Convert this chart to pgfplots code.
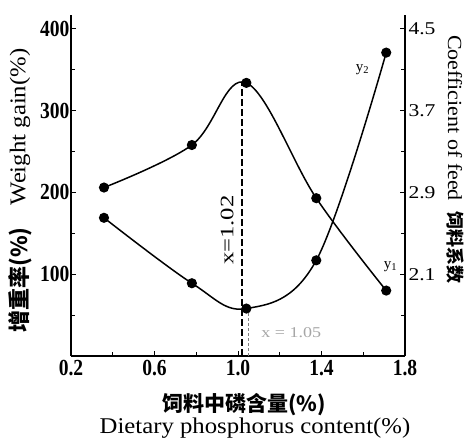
\documentclass[border=0pt]{standalone}
\usepackage{fontspec}
\usepackage{pgfplots}
\pgfplotsset{compat=1.18}
\setmainfont{Liberation Serif}
\newfontfamily\lab{Liberation Serif}[FakeStretch=1.1]
\newfontfamily\tk{Liberation Serif}[FakeStretch=0.85]
\newfontfamily\rtk{Liberation Serif}[FakeStretch=1.2]
\newfontfamily\ann{Liberation Serif}[FakeStretch=1.3]
\newfontfamily\cjk{Noto Sans CJK SC}

\begin{document}
\begin{tikzpicture}
\useasboundingbox (-71pt,-85pt) rectangle (397pt,356pt);
\begin{axis}[
  scale only axis, width=334pt, height=341pt,
  at={(0pt,0pt)}, anchor=south west,
  xmin=0.2, xmax=1.8, ymin=0, ymax=417,
  axis x line=bottom, axis y line=left,
  axis line style={-, line width=1.4pt},
  tick align=inside, clip=false,
  xtick={0.2,0.6,1.0,1.4,1.8}, xticklabels={0.2,0.6,1.0,1.4,1.8},
  minor xtick={0.4,0.8,1.2,1.6},
  ytick={100,200,300,400}, yticklabels={100,200,300,400},
  minor ytick={50,150,250,350},
  major tick length=5pt, minor tick length=4pt,
  every tick/.style={black, line width=0.9pt},
  tick label style={font=\tk\bfseries\fontsize{23}{23}\selectfont},
  xticklabel style={yshift=-1pt},
  yticklabel style={xshift=2pt},
]
\addplot[black, smooth, tension=0.6, line width=1.5pt, mark=*, mark size=4.3pt]
  coordinates {(0.358,206) (0.779,258) (1.04,334) (1.375,193) (1.71,80)};
\addplot[black, line width=1.5pt, dash pattern=on 7pt off 3pt]
  coordinates {(1.02,0) (1.02,334)};
\addplot[gray, line width=0.7pt, dash pattern=on 3pt off 2pt]
  coordinates {(1.05,0) (1.05,58)};
\node[rotate=90, font=\ann\fontsize{19}{19}\selectfont] at (axis cs:0.948,154) {x=1.02};
\node[gray!70, font=\rtk\fontsize{15}{15}\selectfont] at (axis cs:1.255,28) {x = 1.05};
\node[font=\fontsize{15}{15}\selectfont] at (axis cs:1.596,350) {y\textsubscript{2}};
\node[font=\fontsize{15}{15}\selectfont] at (axis cs:1.73,109) {y\textsubscript{1}};
\end{axis}
\begin{axis}[
  scale only axis, width=334pt, height=341pt,
  at={(0pt,0pt)}, anchor=south west,
  xmin=0.2, xmax=1.8, ymin=1.3, ymax=4.636,
  axis y line=right, axis x line=none,
  axis line style={-, line width=1.4pt},
  tick align=inside, clip=false,
  ytick={2.1,2.9,3.7,4.5}, yticklabels={2.1,2.9,3.7,4.5},
  minor ytick={1.7,2.5,3.3,4.1},
  major tick length=5pt, minor tick length=4pt,
  every tick/.style={black, line width=0.9pt},
  tick label style={font=\rtk\fontsize{18}{18}\selectfont},
]
\addplot[black, smooth, tension=0.6, line width=1.5pt, mark=*, mark size=4.3pt]
  coordinates {(0.358,2.652) (0.779,2.012) (1.04,1.764) (1.375,2.236) (1.71,4.268)};
\end{axis}
\node[rotate=90, font=\lab\fontsize{22.5}{22.5}\selectfont] at (-51pt,229pt) {Weight gain(\%)};
\node[rotate=90, font=\cjk\bfseries\fontsize{22}{22}\selectfont] at (-51pt,76pt) {增重率(\%)};
\node[rotate=-90, font=\lab\fontsize{20}{20}\selectfont] at (384pt,238pt) {Coefficient of feed};
\node[rotate=-90, font=\cjk\bfseries\fontsize{18}{18}\selectfont] at (384pt,108pt) {饲料系数};
\node[font=\cjk\bfseries\fontsize{21}{21}\selectfont] at (173pt,-49pt) {饲料中磷含量(\%)};
\node[font=\lab\fontsize{22.5}{22.5}\selectfont] at (184pt,-72pt) {Dietary phosphorus content(\%)};
\end{tikzpicture}
\end{document}
